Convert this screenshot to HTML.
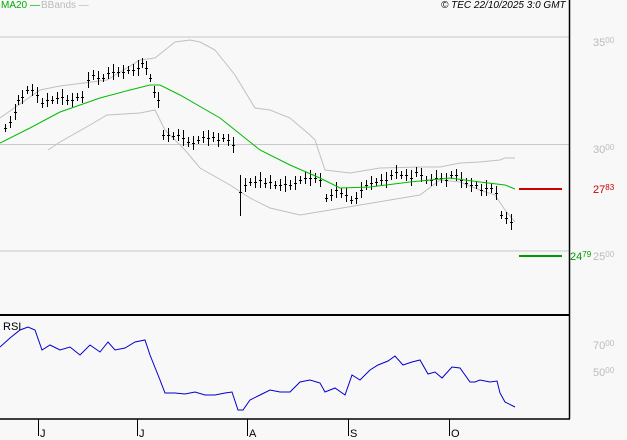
<!DOCTYPE html><html><head><style>body{margin:0;background:#f8f8f8}svg{display:block;font-family:"Liberation Sans",sans-serif}</style></head><body>
<svg id="s" width="627" height="440" xmlns="http://www.w3.org/2000/svg">
<rect width="627" height="440" fill="#f8f8f8"/>
<g stroke="#c8c8c8" stroke-width="1"><line x1="0" y1="37" x2="569" y2="37"/><line x1="0" y1="144.5" x2="569" y2="144.5"/><line x1="0" y1="251" x2="569" y2="251"/></g>
<g id="bands" fill="none" stroke="#c0c0c0"></g>
<g id="bars" stroke="#000" stroke-width="1"></g>
<polyline id="ma" fill="none" stroke="#00bb00" stroke-width="1"/>
<polyline id="rsi" fill="none" stroke="#0000cc" stroke-width="1"/>
<line x1="519" y1="189" x2="562" y2="189" stroke="#cc0000" stroke-width="2"/>
<line x1="519" y1="256" x2="562" y2="256" stroke="#009900" stroke-width="2"/>
<g stroke="#000" stroke-width="2"><line x1="0" y1="315" x2="570" y2="315"/></g>
<g stroke="#000" stroke-width="1.5"><line x1="569.5" y1="0" x2="569.5" y2="419"/><line x1="0" y1="419" x2="570" y2="419"/></g>
<g stroke="#000"><line x1="38.5" y1="419" x2="38.5" y2="436"/><line x1="137.5" y1="419" x2="137.5" y2="436"/><line x1="247.5" y1="419" x2="247.5" y2="436"/><line x1="348.5" y1="419" x2="348.5" y2="436"/><line x1="449.5" y1="419" x2="449.5" y2="436"/></g>
<g font-size="11" fill="#000"><text x="40" y="437">J</text><text x="139" y="437">J</text><text x="249" y="437">A</text><text x="350" y="437">S</text><text x="451" y="437">O</text><text x="3" y="330">RSI</text></g>
<g font-size="11" fill="#bbb"><text x="593" y="46">35<tspan font-size="8" dy="-3">00</tspan></text><text x="593" y="153">30<tspan font-size="8" dy="-3">00</tspan></text><text x="593" y="260">25<tspan font-size="8" dy="-3">00</tspan></text><text x="593" y="349">70<tspan font-size="8" dy="-3">00</tspan></text><text x="593" y="376">50<tspan font-size="8" dy="-3">00</tspan></text></g>
<text x="593" y="193" font-size="11" fill="#cc0000">27<tspan font-size="8" dy="-3">83</tspan></text>
<text x="570" y="260" font-size="11" fill="#009900">24<tspan font-size="8" dy="-3">79</tspan></text>
<text x="1" y="8" font-size="10" fill="#00aa00">MA20 —</text><text x="41" y="8" font-size="10" fill="#bbb">BBands —</text>
<text x="441" y="8" font-size="10" font-style="italic" fill="#000">© TEC 22/10/2025 3:0 GMT</text>
</svg>
<script>
var c=[[5,128],[10,122],[15,112],[18,100],[22,97],[27,90],[32,90],[37,95],[42,103],[47,100],[52,100],[57,98],[62,97],[67,100],[72,100],[77,97],[82,97],[88,80],[93,75],[98,78],[103,78],[108,73],[113,72],[118,72],[123,72],[128,70],[133,70],[138,68],[142,63],[146,68],[150,78],[154,92],[158,100],[163,135],[168,135],[173,136],[178,135],[183,138],[188,142],[193,143],[198,140],[203,137],[208,138],[213,137],[218,140],[223,138],[228,140],[233,145],[240,192],[245,185],[250,182],[255,182],[260,180],[265,183],[270,182],[275,185],[280,185],[285,184],[290,185],[295,183],[300,180],[305,178],[310,178],[315,178],[320,180],[326,198],[331,195],[336,190],[341,193],[346,195],[351,200],[356,198],[361,190],[366,185],[371,183],[376,182],[381,180],[386,180],[391,175],[396,172],[401,175],[406,175],[411,178],[416,172],[421,175],[426,180],[431,180],[436,178],[441,178],[446,180],[451,175],[456,175],[461,180],[466,183],[471,185],[476,185],[481,190],[486,188],[491,188],[496,193],[501,215],[506,218],[511,222]];
var g=document.getElementById('bars'),h='';
c.forEach(function(p,i){var r=4+(i*7%5);var y=p[1];h+='<line x1="'+(p[0]+.5)+'" y1="'+(y-r)+'" x2="'+(p[0]+.5)+'" y2="'+(y+r)+'"/><line x1="'+(p[0]-1)+'" y1="'+(y+.5)+'" x2="'+(p[0]+2)+'" y2="'+(y+.5)+'"/>';});
h+='<line x1="240.5" y1="175" x2="240.5" y2="216"/>';
g.innerHTML=h;
function pts(a){return a.map(function(p){return p.join(',')}).join(' ')}
document.getElementById('ma').setAttribute('points',pts([[0,143],[30,128],[60,112],[100,98],[130,90],[150,85],[160,85],[180,95],[220,118],[260,150],[290,165],[320,178],[340,188],[370,187],[410,182],[450,178],[480,182],[505,185],[515,189]]));
document.getElementById('bands').innerHTML='<polyline points="'+pts([[0,118],[40,90],[60,86],[107,80],[140,60],[155,58],[165,50],[175,42],[190,40],[200,42],[215,50],[235,75],[255,108],[270,110],[290,118],[310,135],[315,140],[325,170],[350,173],[380,168],[420,167],[440,167],[460,163],[480,162],[500,160],[505,158],[515,158]])+'"/><polyline points="'+pts([[48,150],[60,142],[90,125],[107,115],[140,113],[155,110],[165,130],[185,150],[200,168],[230,185],[250,198],[270,208],[300,215],[330,210],[360,205],[390,200],[420,195],[440,180],[460,182],[480,190],[495,195],[505,210],[515,222]])+'"/>';
document.getElementById('rsi').setAttribute('points',pts([[0,347],[10,338],[20,330],[28,327],[35,330],[42,350],[50,345],[60,350],[70,347],[80,355],[90,345],[100,352],[108,342],[115,350],[125,348],[135,342],[145,340],[150,355],[160,380],[165,393],[175,393],[185,394],[195,392],[205,395],[215,395],[225,393],[232,392],[238,410],[243,410],[250,400],[260,395],[270,390],[280,392],[290,392],[300,382],[310,380],[320,383],[325,392],[335,388],[345,395],[352,375],[360,380],[370,370],[378,365],[388,361],[395,356],[403,365],[412,362],[420,360],[428,374],[435,372],[442,378],[452,367],[460,368],[470,382],[475,382],[480,380],[490,382],[497,381],[500,393],[505,402],[515,407]]));
</script>
</body></html>
